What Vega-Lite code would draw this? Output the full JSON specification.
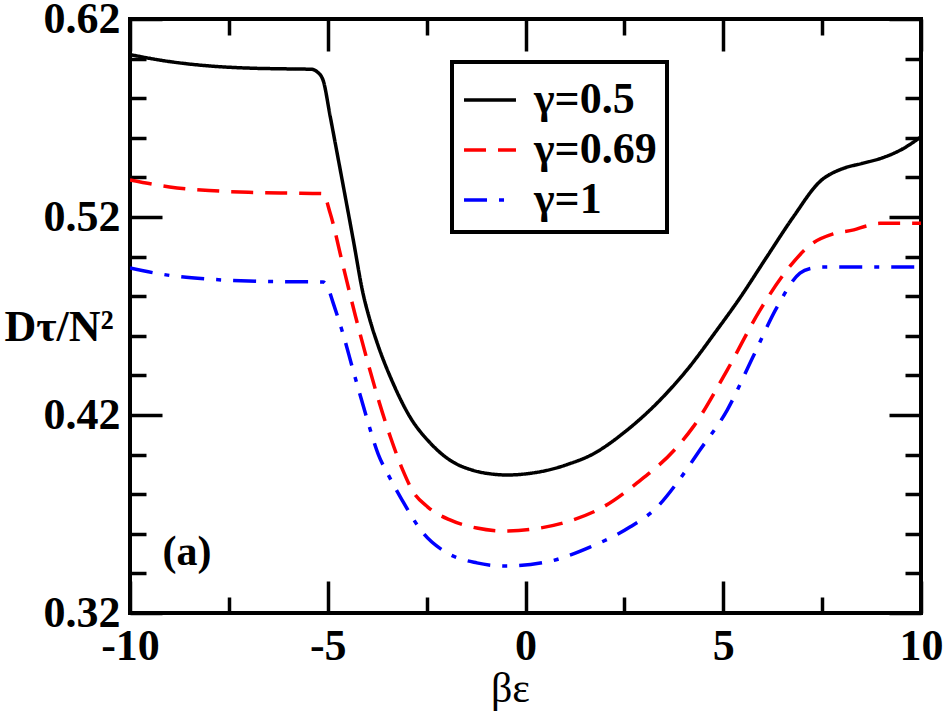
{
  "$schema": "https://vega.github.io/schema/vega-lite/v6.json",
  "width": 791,
  "height": 594,
  "autosize": "none",
  "padding": {"left": 130, "top": 19, "right": 25, "bottom": 100},
  "config": {
    "font": "Liberation Serif",
    "view": {"stroke": "black", "strokeWidth": 4},
    "legend": {"strokeWidth": 4}
  },
  "datasets": {
    "curves": [
      {"be": -10, "d": 0.602, "gamma": "γ=0.5"},
      {"be": -9, "d": 0.5985, "gamma": "γ=0.5"},
      {"be": -8, "d": 0.5963, "gamma": "γ=0.5"},
      {"be": -7, "d": 0.5952, "gamma": "γ=0.5"},
      {"be": -6, "d": 0.5948, "gamma": "γ=0.5"},
      {"be": -5.4, "d": 0.5946, "gamma": "γ=0.5"},
      {"be": -5.28, "d": 0.5935, "gamma": "γ=0.5"},
      {"be": -5.12, "d": 0.5892, "gamma": "γ=0.5"},
      {"be": -4.94, "d": 0.571, "gamma": "γ=0.5"},
      {"be": -4.77, "d": 0.553, "gamma": "γ=0.5"},
      {"be": -4.62, "d": 0.537, "gamma": "γ=0.5"},
      {"be": -4.36, "d": 0.509, "gamma": "γ=0.5"},
      {"be": -4.11, "d": 0.4816, "gamma": "γ=0.5"},
      {"be": -3.92, "d": 0.467, "gamma": "γ=0.5"},
      {"be": -3.75, "d": 0.4564, "gamma": "γ=0.5"},
      {"be": -3.35, "d": 0.4361, "gamma": "γ=0.5"},
      {"be": -2.92, "d": 0.419, "gamma": "γ=0.5"},
      {"be": -2.41, "d": 0.4059, "gamma": "γ=0.5"},
      {"be": -1.83, "d": 0.3962, "gamma": "γ=0.5"},
      {"be": -1.4, "d": 0.3925, "gamma": "γ=0.5"},
      {"be": -0.9, "d": 0.3903, "gamma": "γ=0.5"},
      {"be": -0.45, "d": 0.3897, "gamma": "γ=0.5"},
      {"be": 0.1, "d": 0.3905, "gamma": "γ=0.5"},
      {"be": 0.62, "d": 0.3924, "gamma": "γ=0.5"},
      {"be": 1.1, "d": 0.3953, "gamma": "γ=0.5"},
      {"be": 1.63, "d": 0.3995, "gamma": "γ=0.5"},
      {"be": 2.57, "d": 0.4124, "gamma": "γ=0.5"},
      {"be": 3.33, "d": 0.4261, "gamma": "γ=0.5"},
      {"be": 4.08, "d": 0.4427, "gamma": "γ=0.5"},
      {"be": 4.84, "d": 0.4629, "gamma": "γ=0.5"},
      {"be": 5.4, "d": 0.4785, "gamma": "γ=0.5"},
      {"be": 6.1, "d": 0.4998, "gamma": "γ=0.5"},
      {"be": 6.77, "d": 0.52, "gamma": "γ=0.5"},
      {"be": 7.45, "d": 0.538, "gamma": "γ=0.5"},
      {"be": 8.03, "d": 0.5445, "gamma": "γ=0.5"},
      {"be": 8.5, "d": 0.547, "gamma": "γ=0.5"},
      {"be": 9.04, "d": 0.55, "gamma": "γ=0.5"},
      {"be": 9.5, "d": 0.554, "gamma": "γ=0.5"},
      {"be": 10, "d": 0.5605, "gamma": "γ=0.5"},
      {"be": -10, "d": 0.5387, "gamma": "γ=0.69"},
      {"be": -9, "d": 0.5352, "gamma": "γ=0.69"},
      {"be": -8, "d": 0.5334, "gamma": "γ=0.69"},
      {"be": -7, "d": 0.5325, "gamma": "γ=0.69"},
      {"be": -6, "d": 0.5321, "gamma": "γ=0.69"},
      {"be": -5.12, "d": 0.5318, "gamma": "γ=0.69"},
      {"be": -4.94, "d": 0.522, "gamma": "γ=0.69"},
      {"be": -4.62, "d": 0.496, "gamma": "γ=0.69"},
      {"be": -4.3, "d": 0.47, "gamma": "γ=0.69"},
      {"be": -3.98, "d": 0.446, "gamma": "γ=0.69"},
      {"be": -3.7, "d": 0.4265, "gamma": "γ=0.69"},
      {"be": -3.4, "d": 0.408, "gamma": "γ=0.69"},
      {"be": -3.1, "d": 0.392, "gamma": "γ=0.69"},
      {"be": -2.85, "d": 0.3815, "gamma": "γ=0.69"},
      {"be": -2.47, "d": 0.3735, "gamma": "γ=0.69"},
      {"be": -1.91, "d": 0.367, "gamma": "γ=0.69"},
      {"be": -1.23, "d": 0.3629, "gamma": "γ=0.69"},
      {"be": -0.52, "d": 0.3614, "gamma": "γ=0.69"},
      {"be": 0.37, "d": 0.3629, "gamma": "γ=0.69"},
      {"be": 1.2, "d": 0.367, "gamma": "γ=0.69"},
      {"be": 1.96, "d": 0.3735, "gamma": "γ=0.69"},
      {"be": 2.82, "d": 0.3857, "gamma": "γ=0.69"},
      {"be": 3.83, "d": 0.4038, "gamma": "γ=0.69"},
      {"be": 4.24, "d": 0.414, "gamma": "γ=0.69"},
      {"be": 5.1, "d": 0.4427, "gamma": "γ=0.69"},
      {"be": 5.93, "d": 0.473, "gamma": "γ=0.69"},
      {"be": 6.61, "d": 0.4932, "gamma": "γ=0.69"},
      {"be": 7.27, "d": 0.5069, "gamma": "γ=0.69"},
      {"be": 7.78, "d": 0.5115, "gamma": "γ=0.69"},
      {"be": 8.3, "d": 0.5135, "gamma": "γ=0.69"},
      {"be": 8.63, "d": 0.5155, "gamma": "γ=0.69"},
      {"be": 8.96, "d": 0.5168, "gamma": "γ=0.69"},
      {"be": 10, "d": 0.5168, "gamma": "γ=0.69"},
      {"be": -10, "d": 0.4942, "gamma": "γ=1"},
      {"be": -9, "d": 0.4905, "gamma": "γ=1"},
      {"be": -8, "d": 0.4886, "gamma": "γ=1"},
      {"be": -7, "d": 0.4877, "gamma": "γ=1"},
      {"be": -6, "d": 0.4873, "gamma": "γ=1"},
      {"be": -5.12, "d": 0.4872, "gamma": "γ=1"},
      {"be": -5.0, "d": 0.4845, "gamma": "γ=1"},
      {"be": -4.87, "d": 0.477, "gamma": "γ=1"},
      {"be": -4.62, "d": 0.4614, "gamma": "γ=1"},
      {"be": -4.36, "d": 0.4427, "gamma": "γ=1"},
      {"be": -4.05, "d": 0.421, "gamma": "γ=1"},
      {"be": -3.72, "d": 0.4, "gamma": "γ=1"},
      {"be": -3.45, "d": 0.389, "gamma": "γ=1"},
      {"be": -3.12, "d": 0.377, "gamma": "γ=1"},
      {"be": -2.59, "d": 0.3604, "gamma": "γ=1"},
      {"be": -1.98, "d": 0.3503, "gamma": "γ=1"},
      {"be": -1.23, "d": 0.3453, "gamma": "γ=1"},
      {"be": -0.52, "d": 0.3437, "gamma": "γ=1"},
      {"be": 0.54, "d": 0.3458, "gamma": "γ=1"},
      {"be": 1.63, "d": 0.3533, "gamma": "γ=1"},
      {"be": 2.64, "d": 0.3634, "gamma": "γ=1"},
      {"be": 3.33, "d": 0.3735, "gamma": "γ=1"},
      {"be": 3.83, "d": 0.3857, "gamma": "γ=1"},
      {"be": 4.41, "d": 0.4023, "gamma": "γ=1"},
      {"be": 5.1, "d": 0.4225, "gamma": "γ=1"},
      {"be": 5.75, "d": 0.4493, "gamma": "γ=1"},
      {"be": 6.36, "d": 0.4745, "gamma": "γ=1"},
      {"be": 6.94, "d": 0.4917, "gamma": "γ=1"},
      {"be": 7.25, "d": 0.4942, "gamma": "γ=1"},
      {"be": 7.52, "d": 0.4947, "gamma": "γ=1"},
      {"be": 10, "d": 0.4947, "gamma": "γ=1"}
    ],
    "tag": [{"be": -8.56, "d": 0.3442, "text": "(a)"}]
  },
  "resolve": {"axis": {"x": "independent", "y": "independent"}},
  "layer": [
    {
      "data": {"name": "curves"},
      "mark": {"type": "line", "strokeWidth": 3.5, "interpolate": "monotone", "clip": true},
      "encoding": {
        "x": {
          "field": "be", "type": "quantitative",
          "scale": {"domain": [-10, 10], "nice": false, "zero": false},
          "axis": {
            "orient": "bottom",
            "values": [-10, -7.5, -5, -2.5, 0, 2.5, 5, 7.5, 10],
            "tickSize": {"condition": {"test": "datum.value % 5 === 0", "value": -32}, "value": -16},
            "tickWidth": 3.5, "tickColor": "black",
            "domain": false, "grid": false,
            "labelExpr": "datum.value % 5 === 0 ? toString(datum.value) : ''",
            "labelFont": "Liberation Serif", "labelFontWeight": "bold", "labelFontSize": 44,
            "labelColor": "black", "labelPadding": 43, "labelFlush": false, "labelOverlap": false,
            "title": "βε", "titleFont": "Liberation Serif", "titleFontWeight": "normal",
            "titleFontSize": 42, "titleColor": "black",
            "titleX": 380, "titleY": 88, "titleBaseline": "alphabetic", "titleAlign": "center"
          }
        },
        "y": {
          "field": "d", "type": "quantitative",
          "scale": {"domain": [0.32, 0.62], "nice": false, "zero": false},
          "axis": {
            "orient": "left",
            "values": [0.32, 0.34, 0.36, 0.38, 0.4, 0.42, 0.44, 0.46, 0.48, 0.5, 0.52, 0.54, 0.56, 0.58, 0.6, 0.62],
            "tickSize": {"condition": {"test": "abs((datum.value - 0.32) * 10 - round((datum.value - 0.32) * 10)) < 0.001", "value": -32}, "value": -16},
            "tickWidth": 3.5, "tickColor": "black",
            "domain": false, "grid": false,
            "labelExpr": "abs((datum.value - 0.32) * 10 - round((datum.value - 0.32) * 10)) < 0.001 ? format(datum.value, '.2f') : ''",
            "labelFont": "Liberation Serif", "labelFontWeight": "bold", "labelFontSize": 44,
            "labelColor": "black", "labelPadding": 42, "labelFlush": false, "labelOverlap": false,
            "title": "Dτ/N²", "titleFont": "Liberation Serif", "titleFontWeight": "bold",
            "titleFontSize": 44, "titleColor": "black", "titleAngle": 0,
            "titleX": -126, "titleY": 321, "titleAlign": "left", "titleBaseline": "alphabetic"
          }
        },
        "color": {
          "field": "gamma", "type": "nominal",
          "scale": {"domain": ["γ=0.5", "γ=0.69", "γ=1"], "range": ["#000000", "#ff0000", "#0000ff"]},
          "legend": {
            "title": null, "orient": "none", "legendX": 322, "legendY": 43,
            "symbolType": "stroke", "symbolSize": 2700, "symbolStrokeWidth": 3.5,
            "labelFont": "Liberation Serif", "labelFontWeight": "bold", "labelFontSize": 44,
            "labelColor": "black", "labelOffset": 16, "padding": 10, "rowPadding": 0,
            "strokeColor": "black", "fillColor": "white"
          }
        },
        "strokeDash": {
          "field": "gamma", "type": "nominal",
          "scale": {"domain": ["γ=0.5", "γ=0.69", "γ=1"], "range": [[1, 0], [22, 12], [23, 12, 5, 12]]},
          "legend": {
            "title": null, "orient": "none", "legendX": 322, "legendY": 43,
            "symbolType": "stroke", "symbolSize": 2700, "symbolStrokeWidth": 3.5,
            "labelFont": "Liberation Serif", "labelFontWeight": "bold", "labelFontSize": 44,
            "labelColor": "black", "labelOffset": 16, "padding": 10, "rowPadding": 0,
            "strokeColor": "black", "fillColor": "white"
          }
        }
      }
    },
    {
      "data": {"name": "tag"},
      "mark": {"type": "text", "font": "Liberation Serif", "fontWeight": "bold", "fontSize": 42, "align": "center", "baseline": "alphabetic", "color": "black"},
      "encoding": {
        "x": {"field": "be", "type": "quantitative", "scale": {"domain": [-10, 10], "nice": false, "zero": false}, "axis": null},
        "y": {"field": "d", "type": "quantitative", "scale": {"domain": [0.32, 0.62], "nice": false, "zero": false}, "axis": null},
        "text": {"field": "text"}
      }
    },
    {
      "data": {"name": "curves"},
      "mark": {"type": "line", "opacity": 0},
      "encoding": {
        "x": {
          "field": "be", "type": "quantitative",
          "scale": {"domain": [-10, 10], "nice": false, "zero": false},
          "axis": {
            "orient": "top",
            "values": [-10, -7.5, -5, -2.5, 0, 2.5, 5, 7.5, 10],
            "tickSize": {"condition": {"test": "datum.value % 5 === 0", "value": -32}, "value": -16},
            "tickWidth": 3.5, "tickColor": "black",
            "domain": false, "grid": false, "labels": false, "title": null
          }
        },
        "y": {
          "field": "d", "type": "quantitative",
          "scale": {"domain": [0.32, 0.62], "nice": false, "zero": false},
          "axis": {
            "orient": "right",
            "values": [0.32, 0.34, 0.36, 0.38, 0.4, 0.42, 0.44, 0.46, 0.48, 0.5, 0.52, 0.54, 0.56, 0.58, 0.6, 0.62],
            "tickSize": {"condition": {"test": "abs((datum.value - 0.32) * 10 - round((datum.value - 0.32) * 10)) < 0.001", "value": -32}, "value": -16},
            "tickWidth": 3.5, "tickColor": "black",
            "domain": false, "grid": false, "labels": false, "title": null
          }
        }
      }
    }
  ]
}
